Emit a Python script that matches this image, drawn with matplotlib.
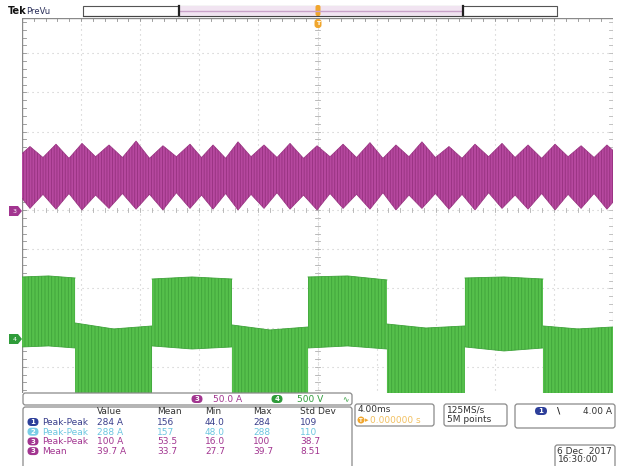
import matplotlib
matplotlib.use("Agg")
import matplotlib.pyplot as plt
from matplotlib.patches import FancyBboxPatch, Rectangle, Polygon, Ellipse
import numpy as np

plt.rcParams['font.family'] = ['DejaVu Sans']
plt.rcParams['hatch.linewidth'] = 0.6

# ---------------- data ----------------
# time axis: 4.00 ms/div, trigger at centre (ms)
ch3_t = [-20.00, -19.46, -18.58, -17.70, -16.82, -15.94, -15.02, -14.11, -13.20, -12.28,
         -11.37, -10.46, -9.55, -8.63, -7.85, -7.07, -6.22, -5.38, -4.50, -3.62,
         -2.74, -1.86, -0.95, -0.03, 0.85, 1.73, 2.64, 3.55, 4.43, 5.31,
         6.19, 7.07, 7.98, 8.90, 9.78, 10.66, 11.58, 12.49, 13.37, 14.25,
         15.17, 16.08, 16.96, 17.84, 18.72, 19.59, 20.00]
ch3_upper = [72, 81, 67, 84, 66, 85, 68, 83, 67, 88,
             66, 82, 68, 84, 67, 83, 66, 87, 68, 83,
             67, 85, 66, 82, 68, 84, 67, 86, 66, 83,
             68, 87, 67, 81, 66, 84, 68, 85, 67, 83,
             66, 84, 68, 82, 67, 83, 76]
ch3_lower = [15, 2, 20, 1, 21, 0, 19, 2, 21, 1,
             20, 0, 22, 2, 19, 1, 21, 0, 20, 2,
             22, 1, 19, 0, 21, 2, 20, 1, 22, 0,
             19, 2, 21, 1, 20, 0, 22, 2, 19, 1,
             21, 0, 20, 2, 21, 1, 10]

# Channel 4 (voltage, V) switching blocks
ch4_edges = [-20.0, -16.41, -11.20, -5.79, -0.64, 4.70, 9.98, 15.26, 20.0]
ch4_state = ['H', 'L', 'H', 'L', 'H', 'L', 'H', 'L']
ch4_top = [[791, 804, 778], [204, 128, 166], [765, 791, 765], [179, 115, 153],
           [791, 804, 753], [191, 140, 166], [778, 791, 765], [166, 128, 153]]
ch4_bottom = [[-102, -89, -115], [-1250, -1250, -1250], [-89, -128, -102], [-1250, -1250, -1250],
              [-115, -89, -128], [-1250, -1250, -1250], [-102, -153, -115], [-1250, -1250, -1250]]

ch3_scale = 50.0    # A/div
ch4_scale = 500.0   # V/div
ch3_offset = 0.0    # div
ch4_offset = -3.29  # div

meas_header = ["Value", "Mean", "Min", "Max", "Std Dev"]
meas_src = ["1", "2", "3", "3"]
meas_name = ["Peak-Peak", "Peak-Peak", "Peak-Peak", "Mean"]
meas_vals = [["284 A", "156", "44.0", "284", "109"],
             ["288 A", "157", "48.0", "288", "110"],
             ["100 A", "53.5", "16.0", "100", "38.7"],
             ["39.7 A", "33.7", "27.7", "39.7", "8.51"]]

# ---------------- colours ----------------
MAG = '#B6489F'
MAG_D = '#96317F'
GRN = '#55C04B'
GRN_D = '#3FA33A'
CH_COL = {'1': '#2D3F9A', '2': '#79CDE6', '3': '#A23590', '4': '#2F9C3A'}
TXT_COL = {'1': '#3A3F8C', '2': '#6CC6E0', '3': '#A23590'}
ORANGE = '#F0A62E'

W, H = 624, 466
fig = plt.figure(figsize=(W / 100, H / 100), dpi=100)
fig.patch.set_facecolor('white')

# graticule geometry (pixels)
gx0, gx1 = 22, 613
gy0, gy1 = 18, 393
ypd = 39.2          # px per vertical division
yzero = 210         # px of centre line
ax = fig.add_axes([gx0 / W, 1 - gy1 / H, (gx1 - gx0) / W, (gy1 - gy0) / H])
ax.set_xlim(-20, 20)
ax.set_ylim((yzero - gy1) / ypd, (yzero - gy0) / ypd)
ax.axis('off')

# grid
gcol = '#c8c8c8'
for xv in np.arange(-16, 17, 4):
    ax.plot([xv, xv], [-6, 6], color=gcol, lw=0.8, ls=(0, (1, 3.5)), zorder=1)
for yv in range(-4, 5):
    ax.plot([-20, 20], [yv, yv], color=gcol, lw=0.8, ls=(0, (1, 3.5)), zorder=1)
# centre-line and border ticks
xminor = np.arange(-20, 20.01, 0.8)
yminor = np.arange(-4.6, 4.9, 0.2)
tl_x = 0.05   # div
tl_t = 0.18   # ms
ylo, yhi = ax.get_ylim()
for xm in xminor:
    ax.plot([xm, xm], [-tl_x, tl_x], color='#b0b0b0', lw=0.6, zorder=1)
    ax.plot([xm, xm], [yhi, yhi - 0.08], color='#909090', lw=0.6, zorder=1)
for ym in yminor:
    ax.plot([-tl_t, tl_t], [ym, ym], color='#b0b0b0', lw=0.6, zorder=1)
    ax.plot([-20, -20 + tl_t * 1.5], [ym, ym], color='#909090', lw=0.6, zorder=1)
    ax.plot([20, 20 - tl_t * 1.5], [ym, ym], color='#b8b8b8', lw=0.6, zorder=1)
ax.plot([0, 0], [ylo, yhi], color=gcol, lw=0.8, ls=(0, (1, 3.5)), zorder=1)
ax.plot([-20, -20], [ylo, yhi], color='#8a8a8a', lw=1.0, zorder=2)
ax.plot([20, 20], [ylo, yhi], color='#bdbdbd', lw=0.8, zorder=2)
ax.plot([-20, 20], [yhi, yhi], color='#8a8a8a', lw=1.0, zorder=2)

# channel 3 trace
u3 = np.array(ch3_upper) / ch3_scale + ch3_offset
l3 = np.array(ch3_lower) / ch3_scale + ch3_offset
ax.fill_between(ch3_t, l3, u3, facecolor=MAG, edgecolor=MAG_D, hatch='||||||', lw=0, zorder=3)
ax.plot(ch3_t, u3, color=MAG_D, lw=0.5, zorder=3)
ax.plot(ch3_t, l3, color=MAG_D, lw=0.5, zorder=3)

# channel 4 trace
for i, st in enumerate(ch4_state):
    a, b = ch4_edges[i], ch4_edges[i + 1]
    xs = [a, (a + b) / 2, b]
    top = np.array(ch4_top[i]) / ch4_scale + ch4_offset
    bot = np.array(ch4_bottom[i]) / ch4_scale + ch4_offset
    ax.fill_between(xs, bot, top, facecolor=GRN, edgecolor=GRN_D, hatch='|||||', lw=0, zorder=4)
    ax.plot(xs, top, color=GRN_D, lw=0.6, zorder=4)
    if st == 'H':
        ax.plot(xs, bot, color=GRN_D, lw=0.6, zorder=4)

# ---------------- overlay (pixel coordinates) ----------------
ov = fig.add_axes([0, 0, 1, 1], zorder=10)
ov.set_xlim(0, W)
ov.set_ylim(H, 0)
ov.axis('off')
ov.patch.set_alpha(0)

def rbox(x0, y0, x1, y1, ec='#8a8a8a', fc='white', lw=0.9, r=2.5):
    ov.add_patch(FancyBboxPatch((x0, y0), x1 - x0, y1 - y0,
                                boxstyle=f"round,pad=0,rounding_size={r}",
                                ec=ec, fc=fc, lw=lw))

def badge(x, y, ch, w=11, h=8):
    ov.add_patch(FancyBboxPatch((x - w / 2, y - h / 2), w, h,
                                boxstyle=f"round,pad=0,rounding_size={h/2}",
                                ec='none', fc=CH_COL[ch]))
    ov.text(x, y + 0.3, ch, color='white', fontsize=5, ha='center', va='center',
            fontweight='bold')

# header
ov.text(8, 11, "Tek", fontsize=7, fontweight='bold', color='#111111', va='center')
ov.text(26, 11, "PreVu", fontsize=6, color='#2a2f5a', va='center')
ov.add_patch(Rectangle((83, 6), 474, 10, fc='white', ec='#555555', lw=0.8))
ov.add_patch(Rectangle((179, 6), 284, 10, fc='#f1e4f1', ec='none'))
ov.plot([180, 462], [11, 11], color='#c9a2c9', lw=1.0)
ov.plot([179, 179], [6, 16], color='#222222', lw=1.6)
ov.plot([463, 463], [6, 16], color='#222222', lw=1.6)
ov.plot([83, 557], [16, 16], color='#444444', lw=0.8)
# trigger markers
ov.add_patch(FancyBboxPatch((315.5, 5), 5, 11, boxstyle="round,pad=0,rounding_size=2",
                            fc=ORANGE, ec='none'))
ov.add_patch(FancyBboxPatch((314.5, 19), 7, 9, boxstyle="round,pad=0,rounding_size=3",
                            fc=ORANGE, ec='none'))
ov.text(318, 23.5, "T", fontsize=4.5, color='white', ha='center', va='center', fontweight='bold')

# channel ground markers
for ch, yy in (('3', 211), ('4', 339)):
    ov.add_patch(Polygon([[9, yy - 5], [18, yy - 5], [22, yy], [18, yy + 5], [9, yy + 5]],
                         closed=True, fc=CH_COL[ch], ec='none'))
    ov.text(14.5, yy + 0.3, ch, fontsize=4.5, color='white', ha='center', va='center')

# scale readout
rbox(23, 393, 352, 405)
badge(197, 399, '3')
ov.text(213, 399.5, "50.0 A", fontsize=6.5, color=CH_COL['3'], va='center')
badge(277, 399, '4')
ov.text(297, 399.5, "500 V", fontsize=6.5, color=CH_COL['4'], va='center')
ov.text(345, 399.5, "∿", fontsize=5.5, color=CH_COL['4'], va='center', ha='center')

# measurement table
rbox(23, 407, 352, 472)
col_x = [97, 157, 205, 253, 300]
for x, hd in zip(col_x, meas_header):
    ov.text(x, 412, hd, fontsize=6.5, color='#333333', va='center')
for r in range(4):
    yy = 422 + r * 9.7
    ch = meas_src[r]
    badge(33, yy, ch)
    ov.text(42, yy + 0.4, meas_name[r], fontsize=6.5, color=TXT_COL[ch], va='center')
    for x, v in zip(col_x, meas_vals[r]):
        ov.text(x, yy + 0.4, v, fontsize=6.5, color=TXT_COL[ch], va='center')

# timebase box
rbox(355, 404, 434, 426)
ov.text(358, 410, "4.00ms", fontsize=6.5, color='#333333', va='center')
ov.add_patch(Ellipse((361, 420), 7, 7, fc=ORANGE, ec='none'))
ov.text(361, 420.3, "T", fontsize=4, color='white', ha='center', va='center', fontweight='bold')
ov.text(365, 420.5, "\u25b8", fontsize=5, color=ORANGE, va='center')
ov.text(370, 420.5, "0.000000 s", fontsize=6.5, color='#F2C060', va='center')

# acquisition box
rbox(444, 404, 507, 426)
ov.text(447, 410, "125MS/s", fontsize=6.5, color='#333333', va='center')
ov.text(447, 420, "5M points", fontsize=6.5, color='#333333', va='center')

# trigger box
rbox(515, 404, 615, 428)
badge(541, 411, '1', w=12)
ov.text(557, 411, "\\", fontsize=6.5, color='#222222', va='center', fontweight='bold')
ov.text(612, 411.5, "4.00 A", fontsize=6.5, color='#333333', va='center', ha='right')

# date box
rbox(555, 445, 615, 468)
ov.text(612, 451, "6 Dec  2017", fontsize=6.5, color='#333333', va='center', ha='right')
ov.text(558, 460, "16:30:00", fontsize=6.5, color='#333333', va='center')

fig.savefig("out.png", dpi=100, facecolor='white')
